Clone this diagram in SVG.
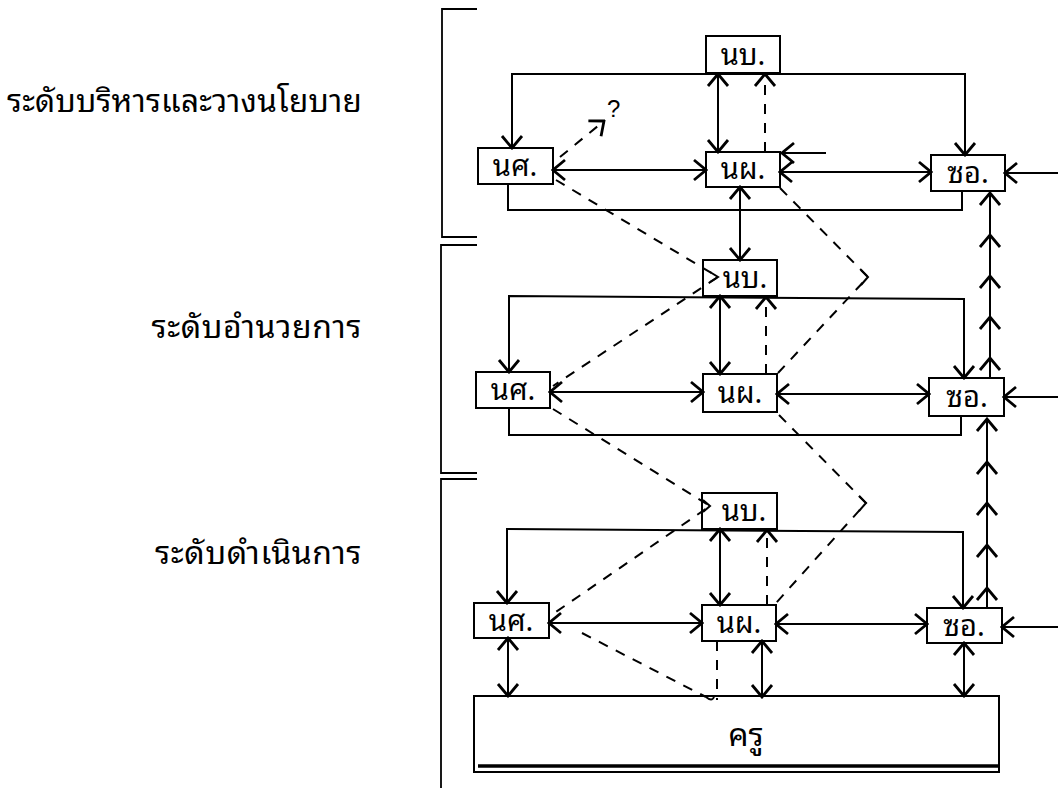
<svg xmlns="http://www.w3.org/2000/svg" width="1058" height="790" viewBox="0 0 1058 790">
<style>
.bg{fill:#fff}
.box{fill:#fff;stroke:#000;stroke-width:2}
.ln{fill:none;stroke:#000;stroke-width:2}
.dash{fill:none;stroke:#000;stroke-width:2;stroke-dasharray:10 9}
.br{fill:none;stroke:#000;stroke-width:1.8}
.t{font-family:"Noto Sans Thai Looped","Noto Sans Thai","Loma","Garuda","Tlwg Typo","Noto Sans","DejaVu Sans",sans-serif;fill:#000}
.bt{font-size:29px;text-anchor:middle}
.lb{font-size:32px;letter-spacing:0.6px;text-anchor:end}
.lb1{font-size:31.5px;letter-spacing:0.2px}
</style>
<defs>
<marker id="ah" viewBox="0 0 16 24" refX="14" refY="12" markerWidth="16" markerHeight="24" markerUnits="userSpaceOnUse" orient="auto-start-reverse">
<path d="M2,2 L14,12 L2,22" fill="none" stroke="#000" stroke-width="2.8"/>
</marker>
</defs>
<rect class="bg" x="0" y="0" width="1058" height="790"/>

<g id="labels">
<text class="t lb lb1" x="362" y="112">ระดับบริหารและวางนโยบาย</text>
<text class="t lb" x="362" y="338">ระดับอำนวยการ</text>
<text class="t lb" x="362" y="564">ระดับดำเนินการ</text>
</g>

<g id="brackets">
<path class="br" d="M477,9 L442,9 L442,237 L477,237"/>
<path class="br" d="M477,245 L441,245 L441,473 L477,473"/>
<path class="br" d="M477,479 L441,479 L441,788"/>
</g>

<g id="node-nb-1"><rect class="box" x="706" y="36" width="74" height="37"/><text class="t bt" x="743" y="65">นบ.</text></g>
<g id="node-ns-1"><rect class="box" x="478" y="148" width="75" height="36"/><text class="t bt" x="515" y="176">นศ.</text></g>
<g id="node-np-1"><rect class="box" x="706" y="152" width="74" height="35"/><text class="t bt" x="743" y="179">นผ.</text></g>
<g id="node-so-1"><rect class="box" x="931" y="155" width="74" height="36"/><text class="t bt" x="968" y="183">ซอ.</text></g>

<g id="node-nb-2"><rect class="box" x="703" y="260" width="74" height="36"/><text class="t bt" x="745" y="288">นบ.</text></g>
<g id="node-ns-2"><rect class="box" x="476" y="372" width="74" height="36"/><text class="t bt" x="513" y="400">นศ.</text></g>
<g id="node-np-2"><rect class="box" x="703" y="374" width="74" height="38"/><text class="t bt" x="740" y="403">นผ.</text></g>
<g id="node-so-2"><rect class="box" x="929" y="378" width="75" height="38"/><text class="t bt" x="967" y="407">ซอ.</text></g>

<g id="node-nb-3"><rect class="box" x="702" y="493" width="75" height="36"/><text class="t bt" x="744" y="521">นบ.</text></g>
<g id="node-ns-3"><rect class="box" x="474" y="603" width="75" height="35"/><text class="t bt" x="511" y="631">นศ.</text></g>
<g id="node-np-3"><rect class="box" x="702" y="605" width="74" height="36"/><text class="t bt" x="739" y="633">นผ.</text></g>
<g id="node-so-3"><rect class="box" x="927" y="608" width="75" height="35"/><text class="t bt" x="964" y="636">ซอ.</text></g>

<g id="node-kru">
<rect class="box" x="474" y="696" width="525" height="76"/>
<line x1="478" y1="766" x2="1000" y2="766" stroke="#000" stroke-width="3.5"/>
<text class="t" x="746" y="746" font-size="32" text-anchor="middle">ครู</text>
</g>

<g id="connectors">
<!-- level 1 -->
<path class="ln" d="M512,148 L512,74 L965,74 L965,155" marker-start="url(#ah)" marker-end="url(#ah)"/>
<path class="ln" d="M508,184 L508,210 L962,210 L962,191"/>
<path class="ln" d="M553,170 L706,170" marker-start="url(#ah)" marker-end="url(#ah)"/>
<path class="ln" d="M780,172 L931,172" marker-start="url(#ah)" marker-end="url(#ah)"/>
<path class="ln" d="M1058,173 L1005,173" marker-end="url(#ah)"/>
<path class="ln" d="M718,74 L718,152" marker-start="url(#ah)" marker-end="url(#ah)"/>
<path class="dash" d="M765,152 L765,74" marker-end="url(#ah)"/>
<path class="ln" d="M826,153 L782,153" marker-end="url(#ah)"/>
<path class="dash" d="M560,157 L604,121" marker-end="url(#ah)"/>
<text x="607" y="117" font-size="24" font-family="Liberation Sans, Arial, sans-serif">?</text>
<path class="ln" d="M740,187 L740,260" marker-start="url(#ah)" marker-end="url(#ah)"/>
<path class="dash" d="M556,180 L718,277 L553,386"/>
<path class="ln" d="M710,272 L718,277 L710,282"/>
<path class="dash" d="M780,188 L868,277 L778,373"/>
<path class="ln" d="M861,270 L868,277 L861,285"/>
<!-- chain -->
<path class="ln" d="M990,378 L990,358 L990,317 L990,276 L990,235 L990,193" marker-mid="url(#ah)" marker-end="url(#ah)"/>
<path class="ln" d="M987,608 L987,588 L987,545 L987,503 L987,462 L987,419" marker-mid="url(#ah)" marker-end="url(#ah)"/>
<!-- level 2 -->
<path class="ln" d="M509,372 L509,296 L964,299 L964,378" marker-start="url(#ah)" marker-end="url(#ah)"/>
<path class="ln" d="M509,408 L509,435 L961,435 L961,416"/>
<path class="ln" d="M550,392 L703,392" marker-start="url(#ah)" marker-end="url(#ah)"/>
<path class="ln" d="M777,394 L929,394" marker-start="url(#ah)" marker-end="url(#ah)"/>
<path class="ln" d="M1058,397 L1004,397" marker-end="url(#ah)"/>
<path class="ln" d="M720,296 L720,374" marker-start="url(#ah)" marker-end="url(#ah)"/>
<path class="dash" d="M766,374 L766,297" marker-end="url(#ah)"/>
<path class="dash" d="M553,409 L710,506 L550,616"/>
<path class="ln" d="M703,500 L710,506 L703,512"/>
<path class="dash" d="M779,415 L866,503 L776,603"/>
<path class="ln" d="M859,496 L866,503 L859,511"/>
<!-- level 3 -->
<path class="ln" d="M507,603 L507,529 L963,532 L963,608" marker-start="url(#ah)" marker-end="url(#ah)"/>
<path class="ln" d="M549,623 L702,623" marker-start="url(#ah)" marker-end="url(#ah)"/>
<path class="ln" d="M776,624 L927,624" marker-start="url(#ah)" marker-end="url(#ah)"/>
<path class="ln" d="M1058,627 L1002,627" marker-end="url(#ah)"/>
<path class="ln" d="M720,529 L720,605" marker-start="url(#ah)" marker-end="url(#ah)"/>
<path class="dash" d="M767,605 L767,530" marker-end="url(#ah)"/>
<path class="ln" d="M508,638 L508,696" marker-start="url(#ah)" marker-end="url(#ah)"/>
<path class="ln" d="M762,641 L762,697" marker-start="url(#ah)" marker-end="url(#ah)"/>
<path class="ln" d="M964,643 L964,696" marker-start="url(#ah)" marker-end="url(#ah)"/>
<path class="dash" d="M582,633 L706,697"/>
<path class="ln" d="M706,697 Q712,702 714,697"/>
<path class="dash" d="M717,641 L717,700"/>
</g>
</svg>
